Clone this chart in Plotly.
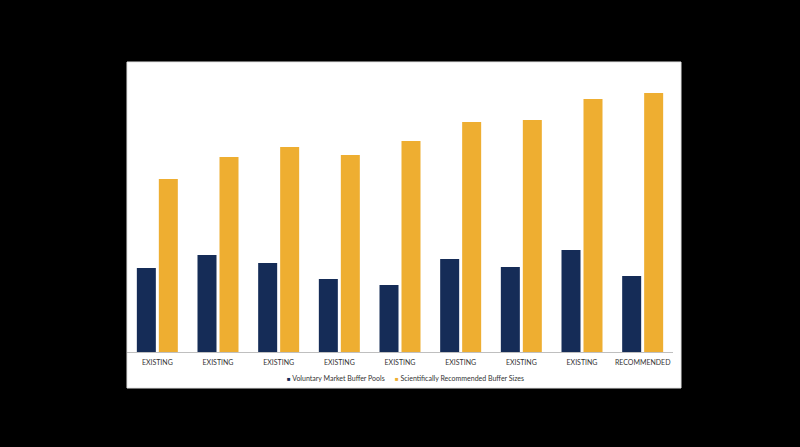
import plotly.graph_objects as go

categories = ["EXISTING", "EXISTING", "EXISTING", "EXISTING", "EXISTING",
              "EXISTING", "EXISTING", "EXISTING", "RECOMMENDED"]
voluntary_pools = [84, 97, 89, 73, 67, 93, 85, 102, 76]
recommended_sizes = [173, 195, 205, 197, 211, 230, 232, 253, 259]
series_names = ["Voluntary Market Buffer Pools", "Scientifically Recommended Buffer Sizes"]

NAVY = "#152C57"
GOLD = "#EEAE31"

# one slot per bar so repeated labels stay separate
x_pos = list(range(len(categories)))

fig = go.Figure()
fig.add_trace(go.Bar(name=series_names[0], x=x_pos, y=voluntary_pools,
                     marker=dict(color=NAVY, line=dict(width=0)), showlegend=False))
fig.add_trace(go.Bar(name=series_names[1], x=x_pos, y=recommended_sizes,
                     marker=dict(color=GOLD, line=dict(width=0)), showlegend=False))

# white chart card on the black page
fig.add_shape(type="rect", xref="paper", yref="paper",
              x0=0, x1=(681 - 127) / 546, y0=(352 - 388) / 290, y1=(352 - 62) / 290,
              fillcolor="white", line=dict(color="#e4e4e4", width=1), layer="below")

# legend with small square keys, drawn as text
for name, color, xp in zip(series_names, [NAVY, GOLD], [0.289, 0.488]):
    fig.add_annotation(
        text=f"<span style='color:{color};font-size:6px'>■</span> {name}",
        xref="paper", yref="paper", x=xp, y=-0.0897,
        xanchor="left", yanchor="middle", showarrow=False,
        font=dict(size=7, color="#333333"),
    )

fig.update_layout(
    width=800, height=447,
    paper_bgcolor="black", plot_bgcolor="white",
    margin=dict(l=127, r=127, t=62, b=95),
    barmode="group", bargap=0.275, bargroupgap=0.136,
    font=dict(family="Lato, Arial, sans-serif", size=7, color="#333333"),
    showlegend=False,
    xaxis=dict(tickmode="array", tickvals=x_pos, ticktext=categories,
               range=[-0.5, len(categories) - 0.5],
               showline=True, linecolor="#bfbfbf", linewidth=1,
               showgrid=False, zeroline=False, ticks="", ticklabelstandoff=4),
    yaxis=dict(range=[0, 290], visible=False, showgrid=False, zeroline=False),
)

fig.write_html("out.html", config={"displayModeBar": False},
               post_script="document.body.style.margin='0';document.body.style.background='black';")
